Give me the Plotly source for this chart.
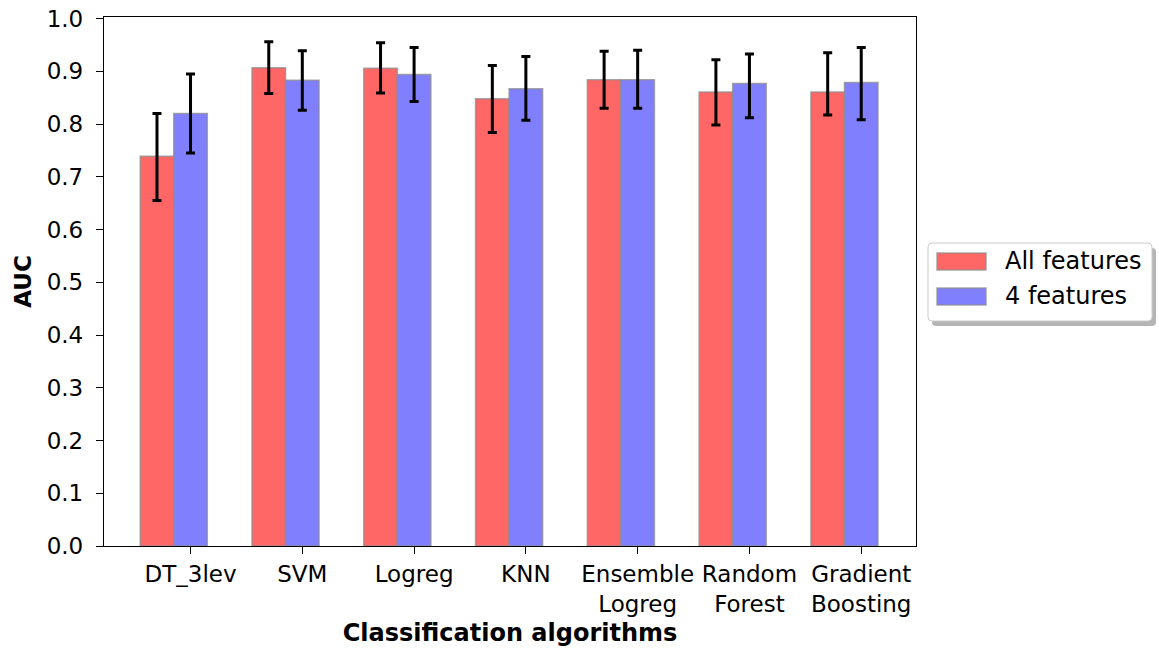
import numpy as np
import plotly.graph_objects as go

categories = ["DT_3lev", "SVM", "Logreg", "KNN", "Ensemble<br>Logreg", "Random<br>Forest", "Gradient<br>Boosting"]
all_auc = [0.739, 0.907, 0.906, 0.848, 0.884, 0.861, 0.861]
all_err_plus = [0.081, 0.049, 0.048, 0.063, 0.054, 0.061, 0.074]
all_err_minus = [0.084, 0.049, 0.047, 0.064, 0.054, 0.063, 0.044]
four_auc = [0.820, 0.883, 0.894, 0.867, 0.884, 0.877, 0.879]
four_err_plus = [0.075, 0.056, 0.051, 0.061, 0.056, 0.056, 0.066]
four_err_minus = [0.075, 0.057, 0.051, 0.060, 0.054, 0.065, 0.071]
y_ticks = [0.0, 0.1, 0.2, 0.3, 0.4, 0.5, 0.6, 0.7, 0.8, 0.9, 1.0]

W, H = 1159, 651
L, T = 104, 17
PW, PH = 812, 529
R, B = W - L - PW, H - T - PH

def px(x):  # pixel x -> paper
    return (x - L) / PW

def py(y):  # pixel y -> paper
    return (T + PH - y) / PH

FONT = "DejaVu Sans"
TICK_SIZE = 23
bar_w = 0.3
idx = np.arange(len(categories))
edge = dict(color="rgba(140,140,140,0.75)", width=1.5)
err_style = dict(type="data", color="black", thickness=3, width=4.5, symmetric=False)

fig = go.Figure()
fig.add_trace(go.Bar(
    x=idx, y=all_auc, width=bar_w, name="All features",
    marker=dict(color="rgb(255,102,102)", line=edge),
    error_y=dict(array=all_err_plus, arrayminus=all_err_minus, **err_style),
    showlegend=False,
))
fig.add_trace(go.Bar(
    x=idx + bar_w, y=four_auc, width=bar_w, name="4 features",
    marker=dict(color="rgb(128,128,255)", line=edge),
    error_y=dict(array=four_err_plus, arrayminus=four_err_minus, **err_style),
    showlegend=False,
))

# manual legend (matplotlib-like with shadow)
bx0, bx1, by0, by1 = 928, 1152, 243, 321
shapes = []
def rrect(x0, y0, x1, y1, r=4):
    X0, X1 = px(x0), px(x1)
    Y0, Y1 = py(y0), py(y1)
    rx, ry = r / PW, r / PH
    return (f"M {X0+rx},{Y0} L {X1-rx},{Y0} Q {X1},{Y0} {X1},{Y0-ry} "
            f"L {X1},{Y1+ry} Q {X1},{Y1} {X1-rx},{Y1} L {X0+rx},{Y1} "
            f"Q {X0},{Y1} {X0},{Y1+ry} L {X0},{Y0-ry} Q {X0},{Y0} {X0+rx},{Y0} Z")
shapes.append(dict(type="path", xref="paper", yref="paper", path=rrect(bx0 + 4, by0 + 5, bx1 + 4, by1 + 5),
                   fillcolor="rgba(120,120,120,0.55)", line=dict(width=0), layer="above"))
shapes.append(dict(type="path", xref="paper", yref="paper", path=rrect(bx0, by0, bx1, by1),
                   fillcolor="white", line=dict(color="rgb(204,204,204)", width=1), layer="above"))
shapes.append(dict(type="rect", xref="paper", yref="paper", x0=px(937), x1=px(986), y0=py(253), y1=py(270),
                   fillcolor="rgb(255,102,102)", line=edge, layer="above"))
shapes.append(dict(type="rect", xref="paper", yref="paper", x0=px(937), x1=px(986), y0=py(288), y1=py(305),
                   fillcolor="rgb(128,128,255)", line=edge, layer="above"))

annotations = [
    dict(text="All features", xref="paper", yref="paper", x=px(1003), y=py(261), xanchor="left", yanchor="middle",
         showarrow=False, font=dict(family=FONT, size=24, color="black")),
    dict(text="4 features", xref="paper", yref="paper", x=px(1003), y=py(296), xanchor="left", yanchor="middle",
         showarrow=False, font=dict(family=FONT, size=24, color="black")),
]

fig.update_layout(
    width=W, height=H,
    margin=dict(l=L, r=R, t=T, b=B, autoexpand=False),
    paper_bgcolor="white", plot_bgcolor="white",
    barmode="overlay",
    font=dict(family=FONT, size=TICK_SIZE, color="black"),
    shapes=shapes, annotations=annotations,
    xaxis=dict(
        range=[-0.474, 6.79],
        tickvals=list(idx + bar_w), ticktext=categories,
        showgrid=False, zeroline=False, automargin=False,
        showline=True, linecolor="black", linewidth=1.3, mirror=True,
        ticks="outside", ticklen=7, tickwidth=1.3, tickcolor="black",
        ticklabelstandoff=0,
        tickfont=dict(family=FONT, size=TICK_SIZE, color="black"),
        title=dict(text="<b>Classification algorithms</b>", font=dict(family=FONT, size=24, color="black"), standoff=8),
    ),
    yaxis=dict(
        range=[0, 1.003],
        tickvals=y_ticks, ticktext=[f"{v:.1f}" for v in y_ticks],
        showgrid=False, zeroline=False, automargin=False,
        showline=True, linecolor="black", linewidth=1.3, mirror=True,
        ticks="outside", ticklen=7, tickwidth=1.3, tickcolor="black",
        ticklabelstandoff=8, ticklabeloverflow="allow",
        tickfont=dict(family=FONT, size=TICK_SIZE, color="black"),
        title=dict(text="<b>AUC</b>", font=dict(family=FONT, size=23, color="black"), standoff=8),
    ),
)

fig.write_html("out.html", config={"displayModeBar": False},
               post_script="document.body.style.margin='0px';document.body.style.overflow='hidden';")
